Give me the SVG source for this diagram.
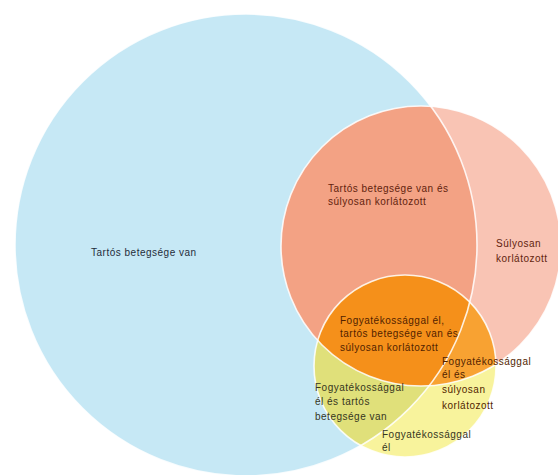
<svg xmlns="http://www.w3.org/2000/svg" width="558" height="475" viewBox="0 0 558 475">
<defs>
<clipPath id="cB"><circle cx="246" cy="245" r="231"/></clipPath>
<clipPath id="cS"><circle cx="421" cy="246" r="140"/></clipPath>
<clipPath id="cY"><circle cx="405" cy="366" r="91"/></clipPath>
<style>
text{font-family:"Liberation Sans",Arial,sans-serif;font-size:10px;letter-spacing:0.5px}
.tb{fill:#1f2c3a}
.ts{fill:#621f0e}
.to{fill:#521f00}
.ty{fill:#36361e}
.edge{fill:none;stroke:#ffffff;stroke-width:1.6;opacity:0.85}
</style>
</defs>
<rect width="558" height="475" fill="#ffffff"/>
<g id="set-tartos">
<circle cx="246" cy="245" r="231" fill="#c6e8f5"/>
</g>
<g id="set-sulyosan">
<circle cx="421" cy="246" r="140" fill="#f9c4b4"/>
<circle cx="421" cy="246" r="140" fill="#f3a284" clip-path="url(#cB)"/>
</g>
<g id="set-fogyatekos">
<circle cx="405" cy="366" r="91" fill="#f8f39c"/>
<g clip-path="url(#cY)">
<circle cx="246" cy="245" r="231" fill="#e0e07a"/>
<circle cx="421" cy="246" r="140" fill="#f8a232"/>
<g clip-path="url(#cB)"><circle cx="421" cy="246" r="140" fill="#f5901a"/></g>
</g>
</g>
<g id="edges">
<circle class="edge" cx="246" cy="245" r="231"/>
<circle class="edge" cx="421" cy="246" r="140"/>
<circle class="edge" cx="405" cy="366" r="91"/>
</g>
<g id="labels">
<text class="tb" x="91" y="256">Tartós betegsége van</text>
<text class="ts" x="328" y="192">Tartós betegsége van és</text>
<text class="ts" x="328" y="205">súlyosan korlátozott</text>
<text class="ts" x="496" y="247">Súlyosan</text>
<text class="ts" x="496" y="262">korlátozott</text>
<text class="to" x="340" y="324">Fogyatékossággal él,</text>
<text class="to" x="340" y="337">tartós betegsége van és</text>
<text class="to" x="340" y="351">súlyosan korlátozott</text>
<text class="to" x="442" y="365">Fogyatékossággal</text>
<text class="to" x="442" y="378">él és</text>
<text class="to" x="442" y="393">súlyosan</text>
<text class="to" x="442" y="409">korlátozott</text>
<text class="ty" x="315" y="391">Fogyatékossággal</text>
<text class="ty" x="315" y="405">él és tartós</text>
<text class="ty" x="315" y="420">betegsége van</text>
<text class="ty" x="382" y="438">Fogyatékossággal</text>
<text class="ty" x="382" y="451">él</text>
</g>
</svg>
